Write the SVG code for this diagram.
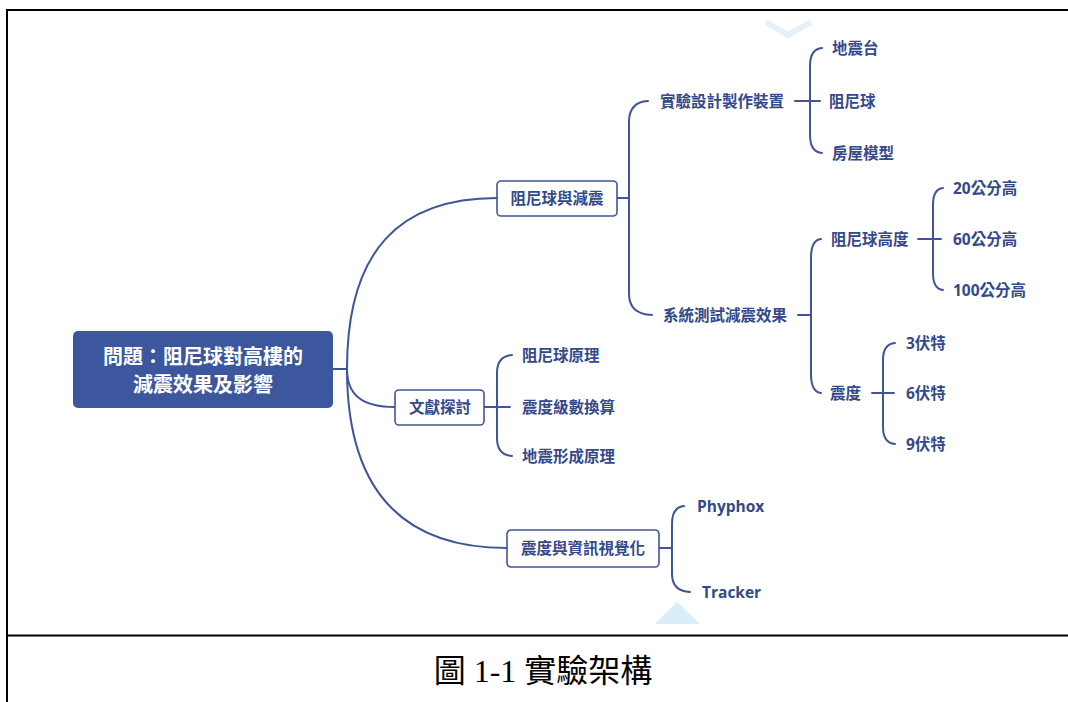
<svg xmlns="http://www.w3.org/2000/svg" width="1068" height="702" viewBox="0 0 1068 702">
<style>
.ln{fill:none;stroke:#3f5598;stroke-width:2;stroke-linecap:round}
.box{fill:#ffffff;stroke:#3f5598;stroke-width:1.6}
.t{font-family:"Open Sans","Noto Sans CJK TC",sans-serif;font-size:15.5px;font-weight:bold;fill:#34498a;dominant-baseline:central}
.tc{text-anchor:middle}
.root{font-family:"Noto Sans CJK TC",sans-serif;font-size:20px;font-weight:bold;fill:#ffffff;text-anchor:middle;dominant-baseline:central}
.frame{stroke:#000000;stroke-width:2;fill:none}
</style>
<rect x="0" y="0" width="1068" height="702" fill="#ffffff"/>
<g id="frame">
<path class="frame" d="M7,10 H1068 M7,9 V702 M7,635.5 H1068"/>
</g>
<g id="decor">
<polyline points="766,22 788,35 811,22" fill="none" stroke="#e4f1fb" stroke-width="6"/>
<polygon points="655,624 677,602 700,624" fill="#d9edfb"/>
</g>
<g id="connectors">
<path class="ln" d="M333,369 H347"/>
<path class="ln" d="M347,369 C347,250 400,198 497,198"/>
<path class="ln" d="M347,369 C347,395 362,407 395,407"/>
<path class="ln" d="M347,369 C347,490 402,548 507,548"/>
<path class="ln" d="M617,198 H629 M648,101 Q629,102 629,122 L629,294 Q629,314 652,315"/>
<path class="ln" d="M795,101 H820 M822,48 Q810,49 810,66 L810,135 Q810,152 822,153"/>
<path class="ln" d="M798,315 H811 M821,239 Q811,240 811,258 L811,374 Q811,392 821,393"/>
<path class="ln" d="M918,239 H941 M943,188 Q933,189 933,205 L933,273 Q933,289 943,290"/>
<path class="ln" d="M872,393 H894 M895,343 Q883,344 883,360 L883,427 Q883,443 895,444"/>
<path class="ln" d="M484,407 H510 M512,355 Q497,356 497,373 L497,438 Q497,455 512,456"/>
<path class="ln" d="M659,548 H672 M684,506 Q672,507 672,524 L672,574 Q672,591 690,592"/>
</g>
<g id="root">
<rect x="73" y="331" width="260" height="77" rx="5" fill="#3c579e"/>
<text class="root" x="203" y="355">問題：阻尼球對高樓的</text>
<text class="root" x="203" y="383">減震效果及影響</text>
</g>
<g id="n-damper">
<rect class="box" x="497" y="181" width="120" height="35" rx="4"/>
<text class="t tc" x="557" y="198">阻尼球與減震</text>
</g>
<g id="n-literature">
<rect class="box" x="395" y="390" width="89" height="35" rx="4"/>
<text class="t tc" x="440" y="407">文獻探討</text>
</g>
<g id="n-visual">
<rect class="box" x="507" y="530" width="152" height="37" rx="4"/>
<text class="t tc" x="583" y="548">震度與資訊視覺化</text>
</g>
<g id="n-design"><text class="t" x="660" y="101">實驗設計製作裝置</text></g>
<g id="n-test"><text class="t" x="663" y="315">系統測試減震效果</text></g>
<g id="n-table"><text class="t" x="832" y="48">地震台</text></g>
<g id="n-ball"><text class="t" x="829" y="101">阻尼球</text></g>
<g id="n-house"><text class="t" x="832" y="153">房屋模型</text></g>
<g id="n-height"><text class="t" x="831" y="239">阻尼球高度</text></g>
<g id="n-intensity"><text class="t" x="830" y="393">震度</text></g>
<g id="n-h20"><text class="t" x="953" y="188">20公分高</text></g>
<g id="n-h60"><text class="t" x="953" y="239">60公分高</text></g>
<g id="n-h100"><text class="t" x="953" y="290">100公分高</text></g>
<g id="n-v3"><text class="t" x="906" y="343">3伏特</text></g>
<g id="n-v6"><text class="t" x="906" y="393">6伏特</text></g>
<g id="n-v9"><text class="t" x="906" y="444">9伏特</text></g>
<g id="n-principle"><text class="t" x="522" y="355">阻尼球原理</text></g>
<g id="n-scale"><text class="t" x="522" y="407">震度級數換算</text></g>
<g id="n-formation"><text class="t" x="522" y="456">地震形成原理</text></g>
<g id="n-phyphox"><text class="t" x="697" y="506">Phyphox</text></g>
<g id="n-tracker"><text class="t" x="702" y="592">Tracker</text></g>
<g id="caption">
<text x="543" y="671" font-family="Liberation Serif, Noto Sans CJK TC, serif" font-size="32" fill="#000000" text-anchor="middle" dominant-baseline="central">圖 1-1 實驗架構</text>
</g>
</svg>
